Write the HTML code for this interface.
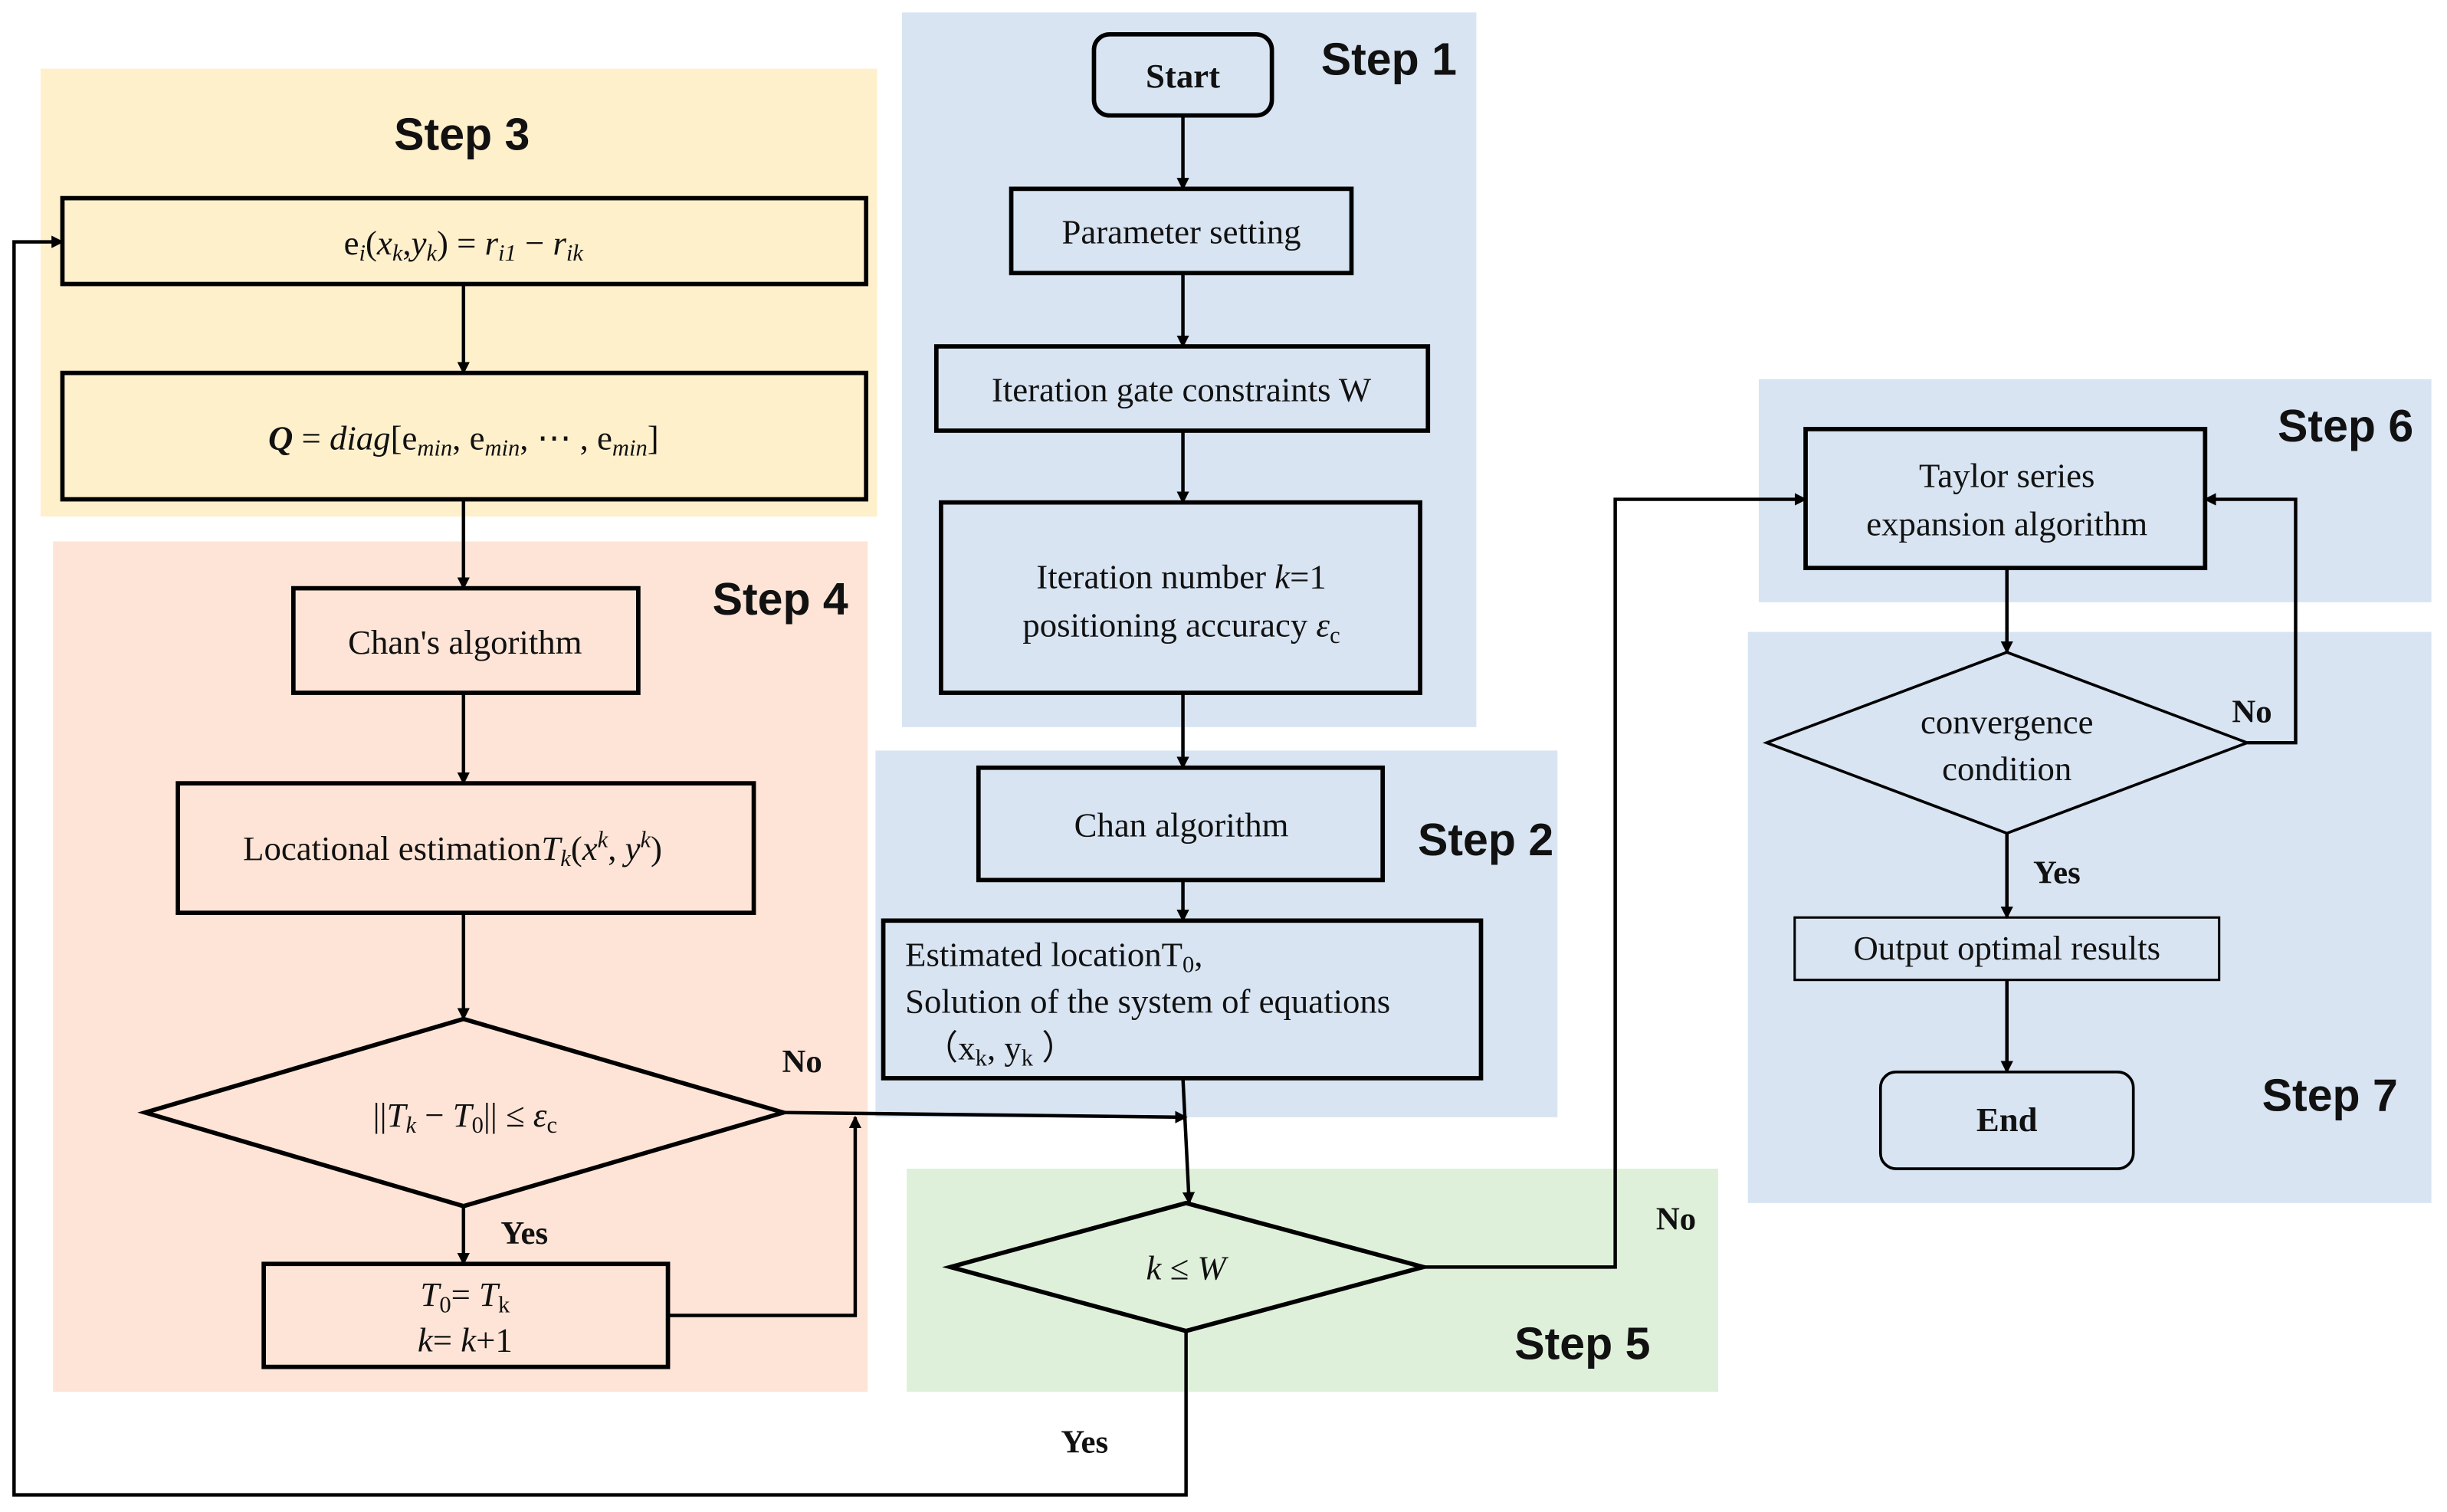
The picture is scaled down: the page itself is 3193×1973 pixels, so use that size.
<!DOCTYPE html>
<html><head><meta charset="utf-8"><style>html,body{margin:0;padding:0;background:#fff}svg{display:block}</style></head><body>
<svg width="3193" height="1973" viewBox="0 0 1568 969" preserveAspectRatio="none" xmlns="http://www.w3.org/2000/svg">
<defs><marker id="a" markerWidth="8" markerHeight="8" refX="7" refY="4" orient="auto" markerUnits="userSpaceOnUse"><path d="M0,0 L8,4 L0,8 z" fill="#000"/></marker></defs>
<g stroke="none">
<rect x="26" y="44" width="536" height="287" fill="#fff0cc"/>
<rect x="34" y="347" width="522" height="545" fill="#fde4d6"/>
<rect x="578" y="8" width="368" height="458" fill="#d8e4f2"/>
<rect x="561" y="481" width="437" height="235" fill="#d8e4f2"/>
<rect x="581" y="749" width="520" height="143" fill="#dff0da"/>
<rect x="1127" y="243" width="431" height="143" fill="#d8e4f2"/>
<rect x="1120" y="405" width="438" height="366" fill="#d8e4f2"/>
</g>
<g font-family="'Liberation Sans', sans-serif" font-weight="bold" font-size="29" fill="#111">
<text x="296" y="96" text-anchor="middle">Step 3</text>
<text x="890" y="48" text-anchor="middle">Step 1</text>
<text x="500" y="394" text-anchor="middle">Step 4</text>
<text x="952" y="548" text-anchor="middle">Step 2</text>
<text x="1503" y="283" text-anchor="middle">Step 6</text>
<text x="1493" y="712" text-anchor="middle">Step 7</text>
<text x="1014" y="871" text-anchor="middle">Step 5</text>
</g>
<g fill="none" stroke="#000" stroke-width="2.8">
<rect x="40" y="127" width="515" height="55"/>
<rect x="40" y="239" width="515" height="81"/>
<rect x="188" y="377" width="221" height="67"/>
<rect x="114" y="502" width="369" height="83"/>
<polygon points="93,713 297,653 502,713 297,773"/>
<rect x="169" y="810" width="259" height="66"/>
<rect x="701" y="22" width="114" height="52" rx="10"/>
<rect x="648" y="121" width="218" height="54"/>
<rect x="600" y="222" width="315" height="54"/>
<rect x="603" y="322" width="307" height="122"/>
<rect x="627" y="492" width="259" height="72"/>
<rect x="566" y="590" width="383" height="101"/>
<polygon points="609,812 760,771 912,812 760,853"/>
<rect x="1157" y="275" width="256" height="89"/>
<polygon points="1132,476 1286,418 1440,476 1286,534" stroke-width="1.8"/>
<rect x="1150" y="588" width="272" height="40" stroke-width="1.5"/>
<rect x="1205" y="687" width="162" height="62" rx="10" stroke-width="1.8"/>
</g>
<g fill="none" stroke="#000" stroke-width="2.2" marker-end="url(#a)">
<line x1="758" y1="74" x2="758" y2="121"/>
<line x1="758" y1="175" x2="758" y2="222"/>
<line x1="758" y1="276" x2="758" y2="322"/>
<line x1="758" y1="444" x2="758" y2="492"/>
<line x1="758" y1="564" x2="758" y2="590"/>
<polyline points="758,691 762,771"/>
<line x1="297" y1="182" x2="297" y2="239"/>
<line x1="297" y1="320" x2="297" y2="377"/>
<line x1="297" y1="444" x2="297" y2="502"/>
<line x1="297" y1="585" x2="297" y2="653"/>
<line x1="297" y1="773" x2="297" y2="810"/>
<polyline points="502,713 760,716"/>
<polyline points="428,843 548,843 548,716"/>
<polyline points="760,853 760,958 9,958 9,155 40,155"/>
<polyline points="912,812 1035,812 1035,320 1157,320"/>
<polyline points="1440,476 1471,476 1471,320 1413,320"/>
<line x1="1286" y1="364" x2="1286" y2="418"/>
<line x1="1286" y1="534" x2="1286" y2="588"/>
<line x1="1286" y1="628" x2="1286" y2="687"/>
</g>
<g font-family="'Liberation Serif', serif" font-size="22" fill="#111" text-anchor="middle">
<text x="297" y="163">e<tspan font-style="italic" font-size="15" dy="4">i</tspan><tspan dy="-4">(</tspan><tspan font-style="italic">x</tspan><tspan font-style="italic" font-size="15" dy="4">k</tspan><tspan dy="-4">,</tspan><tspan font-style="italic">y</tspan><tspan font-style="italic" font-size="15" dy="4">k</tspan><tspan dy="-4">) = </tspan><tspan font-style="italic">r</tspan><tspan font-style="italic" font-size="15" dy="4">i1</tspan><tspan dy="-4"> − </tspan><tspan font-style="italic">r</tspan><tspan font-style="italic" font-size="15" dy="4">ik</tspan></text>
<text x="297" y="288"><tspan font-weight="bold" font-style="italic">Q</tspan> = <tspan font-style="italic">diag</tspan>[e<tspan font-style="italic" font-size="15" dy="4">min</tspan><tspan dy="-4">, e</tspan><tspan font-style="italic" font-size="15" dy="4">min</tspan><tspan dy="-4">, ⋯ , e</tspan><tspan font-style="italic" font-size="15" dy="4">min</tspan><tspan dy="-4">]</tspan></text>
<text x="298" y="419">Chan's algorithm</text>
<text x="290" y="551">Locational estimation<tspan font-style="italic">T</tspan><tspan font-style="italic" font-size="15" dy="4">k</tspan><tspan dy="-4">(</tspan><tspan font-style="italic">x</tspan><tspan font-style="italic" font-size="15" dy="-8">k</tspan><tspan dy="8">, </tspan><tspan font-style="italic">y</tspan><tspan font-style="italic" font-size="15" dy="-8">k</tspan><tspan dy="8">)</tspan></text>
<text x="298" y="722">||<tspan font-style="italic">T</tspan><tspan font-style="italic" font-size="15" dy="4">k</tspan><tspan dy="-4"> − </tspan><tspan font-style="italic">T</tspan><tspan font-size="15" dy="4">0</tspan><tspan dy="-4">|| ≤ </tspan><tspan font-style="italic">ε</tspan><tspan font-size="15" dy="4">c</tspan></text>
<text x="298" y="837"><tspan font-style="italic">T</tspan><tspan font-size="15" dy="4">0</tspan><tspan dy="-4">= </tspan><tspan font-style="italic">T</tspan><tspan font-size="15" dy="4">k</tspan></text>
<text x="298" y="866"><tspan font-style="italic">k</tspan>= <tspan font-style="italic">k</tspan>+1</text>
<text x="758" y="56" font-weight="bold">Start</text>
<text x="757" y="156">Parameter setting</text>
<text x="757" y="257">Iteration gate constraints W</text>
<text x="757" y="377">Iteration number <tspan font-style="italic">k</tspan>=1</text>
<text x="757" y="408">positioning accuracy <tspan font-style="italic">ε</tspan><tspan font-size="15" dy="4">c</tspan></text>
<text x="757" y="536">Chan algorithm</text>
<text x="580" y="619" text-anchor="start">Estimated location<tspan>T</tspan><tspan font-size="15" dy="4">0</tspan><tspan dy="-4">,</tspan></text>
<text x="580" y="649" text-anchor="start">Solution of the system of equations</text>
<text x="592" y="679" text-anchor="start">（x<tspan font-size="15" dy="4">k</tspan><tspan dy="-4">, y</tspan><tspan font-size="15" dy="4">k</tspan><tspan dy="-4"> ）</tspan></text>
<text x="760" y="820"><tspan font-style="italic">k</tspan> ≤ <tspan font-style="italic">W</tspan></text>
<text x="1286" y="312">Taylor series</text>
<text x="1286" y="343">expansion algorithm</text>
<text x="1286" y="470">convergence</text>
<text x="1286" y="500">condition</text>
<text x="1286" y="615">Output optimal results</text>
<text x="1286" y="725" font-weight="bold">End</text>
</g>
<g font-family="'Liberation Serif', serif" font-weight="bold" font-size="21" fill="#111" text-anchor="middle">
<text x="514" y="687">No</text>
<text x="336" y="797">Yes</text>
<text x="1074" y="788">No</text>
<text x="695" y="931">Yes</text>
<text x="1443" y="463">No</text>
<text x="1318" y="566">Yes</text>
</g>
</svg>
</body></html>
